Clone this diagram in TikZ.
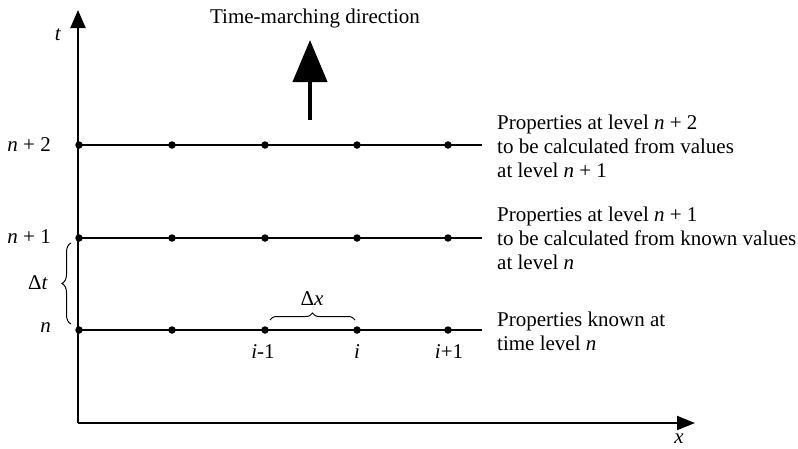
\documentclass[tikz,border=0pt]{standalone}
\usepackage{fontspec}
\setmainfont{Liberation Serif}
\usetikzlibrary{arrows.meta,decorations.pathreplacing}
\tikzset{
  lbl/.style={font=\fontsize{21}{24}\selectfont, inner sep=0pt},
  desc/.style={lbl, anchor=west, align=left},
  gridpt/.style={circle, fill=black, inner sep=0pt, minimum size=7.5pt},
  axis/.style={line width=2pt, -{Triangle[length=18pt,width=15pt]}},
  level/.style={line width=1.1pt},
  brc/.style={line width=1pt, decorate, decoration={brace, amplitude=7pt}},
}
\begin{document}
\begin{tikzpicture}[x=1pt,y=-1pt]
\useasboundingbox (0,0) rectangle (798,448);
% axes
\coordinate (O) at (78,423);
\coordinate (ttip) at (78,10);
\coordinate (xtip) at (695,423);
\draw[axis] (O) -- (ttip);
\draw[axis, -{Triangle[length=18pt,width=14pt]}] (O) -- (xtip);
\node[lbl] (tl) at (58,35) {\textit{t}};
\node[lbl] (xl) at (679,439) {\textit{x}};
% levels
\foreach \k/\y in {0/330,1/238,2/145}{
  \coordinate (s\k) at (78,\y);
  \coordinate (e\k) at (482,\y);
  \draw[level] (s\k) -- (e\k);
  \foreach \j/\x in {0/79,1/172,2/265,3/357,4/448}{
    \node[gridpt] (d\k-\j) at (\x,\y) {};
  }
}
% left labels
\node[lbl, anchor=east] (ln2) at (51,145) {\textit{n} + 2};
\node[lbl, anchor=east] (ln1) at (51,237) {\textit{n} + 1};
\node[lbl, anchor=east] (ln0) at (51,328) {\textit{n}};
% delta t brace
\coordinate (bt0) at (71,324);
\coordinate (bt1) at (71,243);
\draw[brc, decoration={amplitude=9pt}] (bt0) -- (bt1);
\node[lbl] (dt) at (38,283) {Δ\textit{t}};
% delta x brace
\coordinate (bx0) at (270,320);
\coordinate (bx1) at (355,320);
\draw[brc] (bx0) -- (bx1);
\node[lbl] (dx) at (312,299) {Δ\textit{x}};
% index labels
\node[lbl] (im1) at (263,352) {\textit{i}-1};
\node[lbl] (ii) at (357,352) {\textit{i}};
\node[lbl] (ip1) at (449,352) {\textit{i}+1};
% time-marching
\node[lbl] (title) at (315,18) {Time-marching direction};
\coordinate (ma0) at (310,120);
\coordinate (ma1) at (310,40);
\draw[line width=4.3pt, -{Triangle[length=42pt,width=34pt]}] (ma0) -- (ma1);
% descriptions
\node[desc] (t2) at (497,146) {Properties at level \textit{n} + 2\\to be calculated from values\\at level \textit{n} + 1};
\node[desc] (t1) at (497,238) {Properties at level \textit{n} + 1\\to be calculated from known values\\at level \textit{n}};
\node[desc] (t0) at (497,331) {Properties known at\\time level \textit{n}};
\end{tikzpicture}
\end{document}
